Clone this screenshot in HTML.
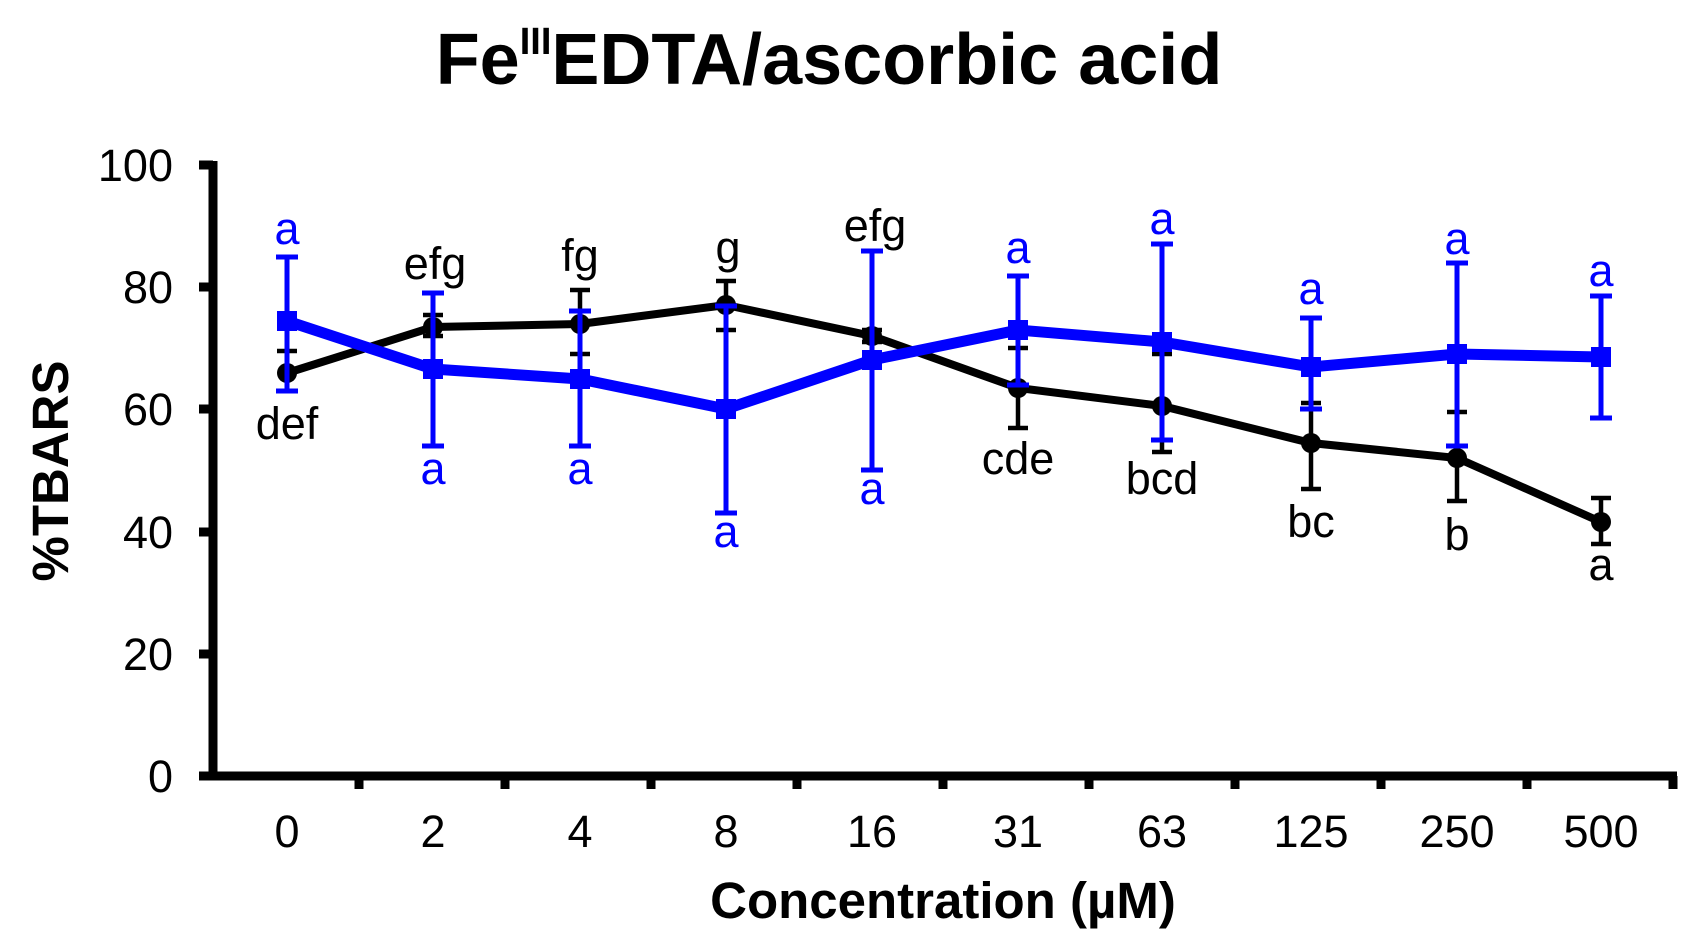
<!DOCTYPE html>
<html><head><meta charset="utf-8"><style>
html,body{margin:0;padding:0;background:#fff;}
svg{display:block;font-family:"Liberation Sans",Arial,sans-serif;}
</style></head><body>
<svg width="1690" height="944" viewBox="0 0 1690 944" xmlns="http://www.w3.org/2000/svg">
<text x="829" y="84" text-anchor="middle" font-size="72" font-weight="bold">Fe<tspan font-size="38" dy="-30">III</tspan><tspan dy="30">EDTA/ascorbic acid</tspan></text>
<text transform="translate(68,471) rotate(-90)" text-anchor="middle" font-size="51" font-weight="bold">%TBARS</text>
<text x="943" y="918" text-anchor="middle" font-size="51" font-weight="bold">Concentration (µM)</text>
<g stroke="#000" stroke-width="9" fill="none">
<line x1="213" y1="161" x2="213" y2="780"/>
<line x1="209" y1="776" x2="1677" y2="776"/>
</g>
<g stroke="#000" stroke-width="9">
<line x1="199" y1="165" x2="213" y2="165"/><line x1="199" y1="287" x2="213" y2="287"/><line x1="199" y1="409" x2="213" y2="409"/><line x1="199" y1="532" x2="213" y2="532"/><line x1="199" y1="654" x2="213" y2="654"/><line x1="199" y1="776" x2="213" y2="776"/>
<line x1="359" y1="776" x2="359" y2="789"/><line x1="505" y1="776" x2="505" y2="789"/><line x1="651" y1="776" x2="651" y2="789"/><line x1="797" y1="776" x2="797" y2="789"/><line x1="943" y1="776" x2="943" y2="789"/><line x1="1089" y1="776" x2="1089" y2="789"/><line x1="1235" y1="776" x2="1235" y2="789"/><line x1="1381" y1="776" x2="1381" y2="789"/><line x1="1527" y1="776" x2="1527" y2="789"/><line x1="1673" y1="776" x2="1673" y2="789"/>
</g>
<g font-size="45" text-anchor="end">
<text x="173" y="181">100</text><text x="173" y="303">80</text><text x="173" y="425">60</text><text x="173" y="548">40</text><text x="173" y="670">20</text><text x="173" y="792">0</text>
</g>
<g font-size="45" text-anchor="middle">
<text x="287" y="847">0</text><text x="433" y="847">2</text><text x="580" y="847">4</text><text x="726" y="847">8</text><text x="872" y="847">16</text><text x="1018" y="847">31</text><text x="1162" y="847">63</text><text x="1311" y="847">125</text><text x="1457" y="847">250</text><text x="1601" y="847">500</text>
</g>
<g stroke="#000" stroke-width="4.5">
<path d="M287 391V351M277 391h20M277 351h20"/>
<path d="M433 336V315M423 336h20M423 315h20"/>
<path d="M580 354V290M570 354h20M570 290h20"/>
<path d="M726 330V281M716 330h20M716 281h20"/>
<path d="M872 342V330M862 342h20M862 330h20"/>
<path d="M1018 428V348M1008 428h20M1008 348h20"/>
<path d="M1162 452V354M1152 452h20M1152 354h20"/>
<path d="M1311 489V403M1301 489h20M1301 403h20"/>
<path d="M1457 501V412M1447 501h20M1447 412h20"/>
<path d="M1601 544V498M1591 544h20M1591 498h20"/>
</g>
<polyline fill="none" stroke="#000" stroke-width="8" points="287,373 433,327 580,324 726,305 872,336 1018,388 1162,406 1311,443 1457,458 1601,522"/>
<g fill="#000"><circle cx="287" cy="373" r="10"/><circle cx="433" cy="327" r="10"/><circle cx="580" cy="324" r="10"/><circle cx="726" cy="305" r="10"/><circle cx="872" cy="336" r="10"/><circle cx="1018" cy="388" r="10"/><circle cx="1162" cy="406" r="10"/><circle cx="1311" cy="443" r="10"/><circle cx="1457" cy="458" r="10"/><circle cx="1601" cy="522" r="10"/></g>
<g stroke="#0000ff" stroke-width="5">
<path d="M287 391V257M276 391h22M276 257h22"/>
<path d="M433 446V293M422 446h22M422 293h22"/>
<path d="M580 446V311M569 446h22M569 311h22"/>
<path d="M726 513V306M715 513h22M715 306h22"/>
<path d="M872 470V251M861 470h22M861 251h22"/>
<path d="M1018 385V276M1007 385h22M1007 276h22"/>
<path d="M1162 440V244M1151 440h22M1151 244h22"/>
<path d="M1311 409V318M1300 409h22M1300 318h22"/>
<path d="M1457 446V263M1446 446h22M1446 263h22"/>
<path d="M1601 418V296M1590 418h22M1590 296h22"/>
</g>
<polyline fill="none" stroke="#0000ff" stroke-width="11" points="287,321 433,369 580,379 726,409 872,360 1018,330 1162,342 1311,367 1457,354 1601,357"/>
<g fill="#0000ff"><rect x="277" y="311" width="20" height="20"/><rect x="423" y="359" width="20" height="20"/><rect x="570" y="369" width="20" height="20"/><rect x="716" y="399" width="20" height="20"/><rect x="862" y="350" width="20" height="20"/><rect x="1008" y="320" width="20" height="20"/><rect x="1152" y="332" width="20" height="20"/><rect x="1301" y="357" width="20" height="20"/><rect x="1447" y="344" width="20" height="20"/><rect x="1591" y="347" width="20" height="20"/></g>
<g font-size="45" text-anchor="middle" fill="#000">
<text x="287" y="439">def</text><text x="435" y="279">efg</text><text x="580" y="271">fg</text><text x="728" y="263">g</text><text x="875" y="241">efg</text><text x="1018" y="474">cde</text><text x="1162" y="494">bcd</text><text x="1311" y="537">bc</text><text x="1457" y="550">b</text><text x="1601" y="580">a</text>
</g>
<g font-size="45" text-anchor="middle" fill="#0000ff">
<text x="287" y="244">a</text><text x="433" y="484">a</text><text x="580" y="484">a</text><text x="726" y="547">a</text><text x="872" y="504">a</text><text x="1018" y="263">a</text><text x="1162" y="234">a</text><text x="1311" y="304">a</text><text x="1457" y="254">a</text><text x="1601" y="286">a</text>
</g>
</svg>
</body></html>
